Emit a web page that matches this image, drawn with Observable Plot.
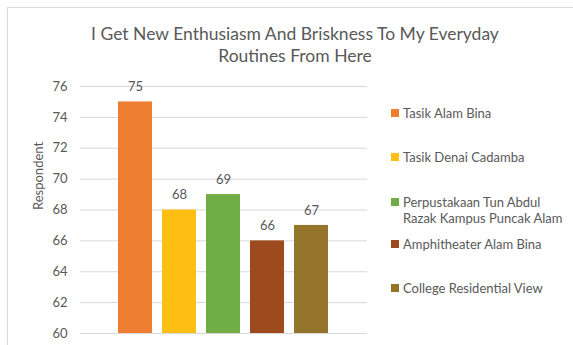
<!DOCTYPE html>
<html><head><meta charset="utf-8">
<script src="https://cdn.jsdelivr.net/npm/d3@7"></script>
<script src="https://cdn.jsdelivr.net/npm/@observablehq/plot@0.6"></script>
<style>
body{margin:0;background:#fff;font-family:Lato,"Open Sans",sans-serif;}
#wrap{position:relative;width:573px;height:345px;overflow:hidden;}
#frame{position:absolute;left:7px;top:7px;width:600px;height:400px;border-left:1px solid #d9d9d9;border-top:1px solid #d9d9d9;}
#title{position:absolute;left:0;top:23px;width:590px;text-align:center;font-size:17.5px;line-height:22px;color:#595959;}
#chart{position:absolute;left:0;top:70px;}
#legend{position:absolute;left:391px;top:0;font-size:13px;color:#595959;}
.item{position:absolute;left:0;white-space:nowrap;line-height:16px;}
.sw{position:absolute;left:0;top:4px;width:8px;height:8px;}
.lt{position:absolute;left:12px;top:0;}
</style></head>
<body>
<div id="wrap">
<div id="frame"></div>
<div id="title">I Get New Enthusiasm And Briskness To My Everyday<br>Routines From Here</div>
<div id="chart"></div>
<div id="legend"></div>
</div>
<script>
const categories = ["Tasik Alam Bina","Tasik Denai Cadamba","Perpustakaan Tun Abdul Razak Kampus Puncak Alam","Amphitheater Alam Bina","College Residential View"];
const legendLines = [["Tasik Alam Bina"],["Tasik Denai Cadamba"],["Perpustakaan Tun Abdul","Razak Kampus Puncak Alam"],["Amphitheater Alam Bina"],["College Residential View"]];
const values = [75,68,69,66,67];
const colors = ["#ED7D31","#FDBF14","#70AD47","#9E4A1F","#94732A"];
const yTicks = [60,62,64,66,68,70,72,74,76];
const legendY = [105,149,194,236,280];

const data = categories.map((c,i)=>({name:c,value:values[i]}));

const chart = Plot.plot({
  width: 573, height: 275,
  marginLeft: 80, marginRight: 206, marginTop: 16, marginBottom: 12,
  style:{fontFamily:"Lato, 'Open Sans', sans-serif", fontSize:"13px", color:"#595959", background:"transparent"},
  x:{domain:categories, paddingInner:0.227, paddingOuter:0.864, axis:null},
  y:{domain:[60,76], ticks:yTicks, label:null},
  color:{domain:categories, range:colors},
  marks:[
    Plot.gridY(yTicks,{stroke:"#d9d9d9", strokeOpacity:1, strokeWidth:1}),
    Plot.axisY(yTicks,{tickSize:0, tickPadding:13, fontSize:13, fill:"#595959", label:null}),
    Plot.text(["Respondent"],{frameAnchor:"left", dx:-42, rotate:-90, fontSize:13, fill:"#595959"}),
    Plot.rectY(data,{x:"name", y1:60, y2:"value", fill:"name"}),
    Plot.text(data,{x:"name", y:"value", text:d=>String(d.value), dy:-15, fontSize:13, fill:"#595959"})
  ]
});
document.getElementById("chart").appendChild(chart);

const lg = document.getElementById("legend");
categories.forEach((c,i)=>{
  const it = document.createElement("div");
  it.className="item"; it.style.top = legendY[i]+"px";
  const sw = document.createElement("div"); sw.className="sw"; sw.style.background=colors[i];
  const t = document.createElement("div"); t.className="lt"; t.innerHTML = legendLines[i].join("<br>");
  it.appendChild(sw); it.appendChild(t); lg.appendChild(it);
});
</script>
</body></html>
